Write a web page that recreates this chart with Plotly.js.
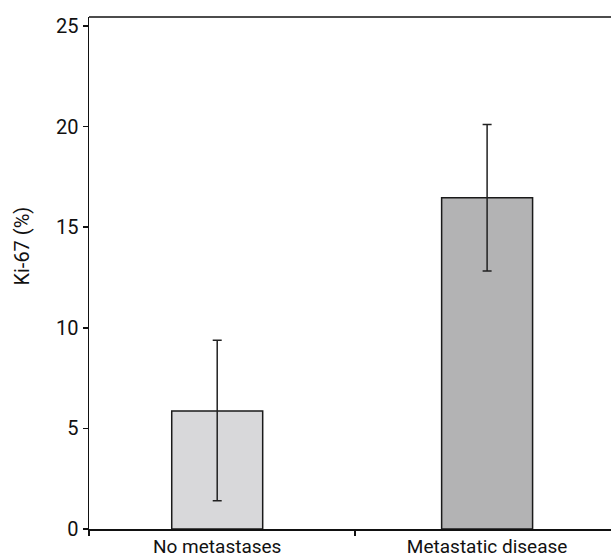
<!DOCTYPE html>
<html>
<head>
<meta charset="utf-8">
<script src="https://cdn.plot.ly/plotly-3.0.1.min.js"></script>
<style>html,body{margin:0;padding:0;background:#fff;}#chart{width:611px;height:555px;}</style>
</head>
<body>
<div id="chart"></div>
<script>
const categories = ["No metastases", "Metastatic disease"];
const positions = [0, 1];
const ki67Mean = [5.86, 16.47];
const errUpper = [3.52, 3.64];
const errLower = [4.45, 3.65];
const barColors = ["#d8d8da", "#b3b3b4"];
const yTicks = [0, 5, 10, 15, 20, 25];
const yTitle = "Ki-67 (%)";

const font = "Roboto, 'Liberation Sans', Arial, sans-serif";

const trace = {
  type: "bar",
  x: positions,
  y: ki67Mean,
  width: 0.337,
  marker: {color: barColors, line: {color: "#1a1a1a", width: 1.5}},
  error_y: {type: "data", symmetric: false, array: errUpper, arrayminus: errLower,
            color: "#222", thickness: 1.5, width: 4.5},
  hoverinfo: "none"
};

const layout = {
  width: 611, height: 555,
  margin: {l: 89, r: 0, t: 16.5, b: 26.3, pad: 0},
  paper_bgcolor: "#fff", plot_bgcolor: "#fff",
  showlegend: false,
  font: {family: font, size: 20, color: "#111"},
  xaxis: {
    range: [-0.475, 1.459], showgrid: false, zeroline: false,
    showline: true, linecolor: "#111", linewidth: 1.5, mirror: false,
    tickmode: "array", tickvals: positions, ticktext: categories,
    ticks: "", ticklabelstandoff: 0,
    tickfont: {family: font, size: 19, color: "#111"},
    minor: {tickmode: "array", tickvals: [-0.475, 0.51], ticks: "outside", ticklen: 5, tickwidth: 1.5, tickcolor: "#111"}
  },
  yaxis: {
    range: [0, 25.45], showgrid: false, zeroline: false,
    showline: true, linecolor: "#111", linewidth: 1.5,
    tickmode: "array", tickvals: yTicks,
    ticks: "outside", ticklen: 5, tickwidth: 1.5, tickcolor: "#111",
    tickfont: {family: font, size: 20, color: "#111"}
  },
  annotations: [{text: yTitle, xref: "paper", yref: "paper", x: -0.128, y: 0.552,
                 xanchor: "center", yanchor: "middle", textangle: -90, showarrow: false,
                 font: {family: font, size: 20, color: "#111"}}],
  shapes: [{type: "line", xref: "paper", yref: "paper", x0: 0, x1: 1, y0: 1, y1: 1,
            line: {color: "#111", width: 1.5}}]
};

Plotly.newPlot("chart", [trace], layout, {displayModeBar: false, staticPlot: true});
</script>
</body>
</html>
